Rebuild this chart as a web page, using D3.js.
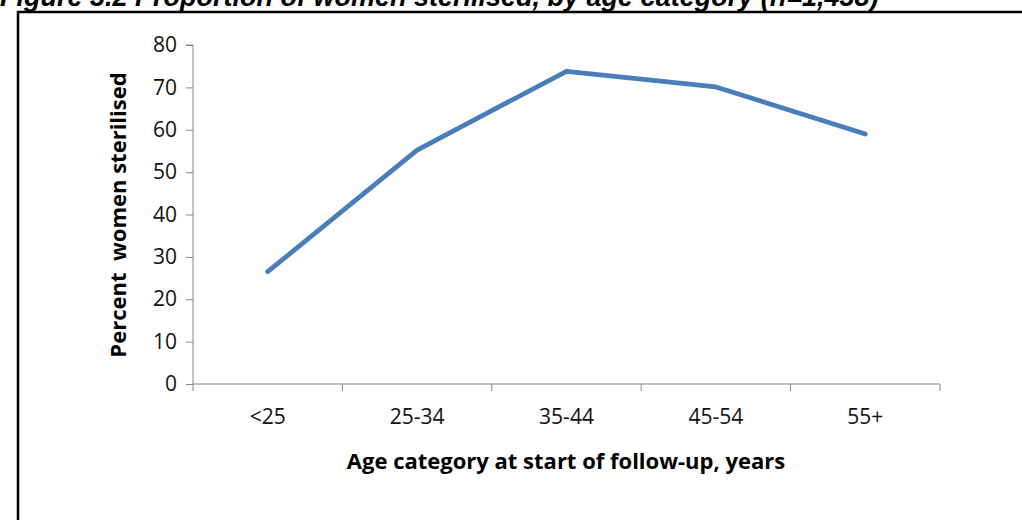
<!DOCTYPE html>
<html><head><meta charset="utf-8">
<script src="https://cdn.jsdelivr.net/npm/d3@7"></script>
<style>body{margin:0;background:#fff;overflow:hidden}</style>
</head><body>
<svg id="c" width="1022" height="520"></svg>
<script>
const categories = ["<25", "25-34", "35-44", "45-54", "55+"];
const values = [26.5, 55.2, 73.8, 70.1, 59.0];
const yTicks = [0, 10, 20, 30, 40, 50, 60, 70, 80];
const titleText = "Figure 3.2 Proportion of women sterilised, by age category (n=1,438)";
const xTitle = "Age category at start of follow-up, years";
const yTitle = "Percent  women sterilised";

const svg = d3.select("#c");
const font = "'Open Sans', 'Noto Sans', sans-serif";

// frame
svg.append("rect").attr("x", 18).attr("y", 12).attr("width", 1100).attr("height", 600)
  .attr("fill", "none").attr("stroke", "#000").attr("stroke-width", 2.5);
svg.append("text").attr("x", 0).attr("y", 6).attr("font-family", "'Liberation Sans', Arial, sans-serif")
  .attr("font-weight", "bold").attr("font-style", "italic").attr("font-size", 27).attr("fill", "#000")
  .text(titleText);

const L = 193, R = 940, T = 45, B = 384;
const x = d3.scaleBand().domain(categories).range([L, R]).padding(0);
const y = d3.scaleLinear().domain([0, 80]).range([B, T]);

// y axis
const ya = svg.append("g").attr("transform", `translate(${L},0)`)
  .call(d3.axisLeft(y).tickValues(yTicks).tickSize(7).tickPadding(9));
ya.select(".domain").attr("stroke", "#868686").attr("d", `M-7,${T}H0V${B}`);
ya.selectAll(".tick line").attr("stroke", "#868686");
ya.selectAll(".tick text").attr("font-family", font).attr("font-size", 21).attr("fill", "#111");

// x axis
const xa = svg.append("g").attr("transform", `translate(0,${B})`)
  .call(d3.axisBottom(x).tickSize(0).tickPadding(25));
xa.select(".domain").attr("stroke", "#868686").attr("d", `M${L},0H${R}`);
xa.selectAll(".tick text").attr("font-family", font).attr("font-size", 21).attr("fill", "#111");
const bounds = categories.map(c => x(c)).concat([R]);
xa.selectAll(".bt").data(bounds).enter().append("line").attr("class", "bt")
  .attr("x1", d => d).attr("x2", d => d).attr("y1", 0).attr("y2", 7).attr("stroke", "#868686");

// line
const line = d3.line().x((d, i) => x(categories[i]) + x.bandwidth() / 2).y(d => y(d));
svg.append("path").datum(values).attr("d", line).attr("fill", "none")
  .attr("stroke", "#4a7ebb").attr("stroke-width", 4.8).attr("stroke-linejoin", "round").attr("stroke-linecap", "round");

// titles
svg.append("text").attr("x", 566).attr("y", 469).attr("text-anchor", "middle")
  .attr("font-family", font).attr("font-weight", "bold").attr("font-size", 22).attr("fill", "#000").text(xTitle);
svg.append("text").attr("transform", `translate(126,215) rotate(-90)`).attr("text-anchor", "middle")
  .attr("font-family", font).attr("font-weight", "bold").attr("font-size", 22).attr("fill", "#000")
  .attr("xml:space", "preserve").style("white-space", "pre").text(yTitle);
</script>
</body></html>
